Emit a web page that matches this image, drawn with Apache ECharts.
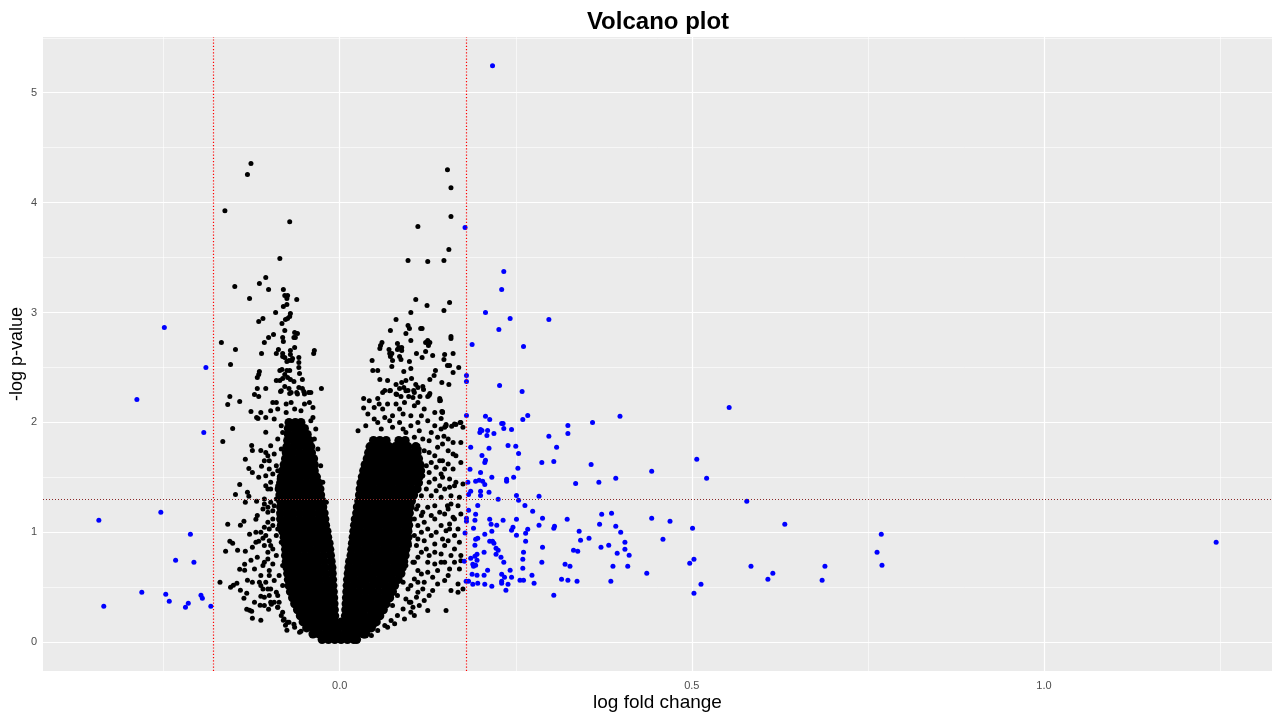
<!DOCTYPE html>
<html>
<head>
<meta charset="utf-8">
<title>Volcano plot</title>
<script src="https://cdn.jsdelivr.net/npm/echarts@6/dist/echarts.min.js"></script>
<style>
  html, body { margin: 0; padding: 0; background: #fff; }
  #chart { width: 1280px; height: 720px; }
</style>
</head>
<body>
<div id="chart"></div>
<script>
// axis breaks
const xTicks = [0, 0.5, 1.0];
const xMinor = [-0.25, 0.25, 0.75, 1.25];
const yTicks = [0, 1, 2, 3, 4, 5];
const yMinor = [0.5, 1.5, 2.5, 3.5, 4.5, 5.5];
// cut-offs: log10(1.5) and -log10(0.05)
const fcCut = [-0.1761, 0.1761];
const pCut = 1.30103;

// blue points, log fold change below -cut
const downPoints = [
  [-0.249,2.864],[-0.190,2.5],[-0.288,2.209],[-0.193,1.909],[-0.254,1.182],[-0.342,1.109],
  [-0.212,0.982],[-0.233,0.745],[-0.207,0.727],[-0.281,0.455],[-0.247,0.436],[-0.242,0.373],
  [-0.197,0.427],[-0.195,0.4],[-0.219,0.318],[-0.215,0.355],[-0.183,0.327],[-0.335,0.327]
];

// blue points, log fold change above +cut
const upPoints = [
  [0.217,5.245],[0.178,3.773],
  [0.233,3.373],[0.230,3.209],[0.207,3.0],[0.242,2.945],[0.297,2.936],[0.226,2.845],
  [0.188,2.709],[0.261,2.691],[0.180,2.427],[0.180,2.373],[0.227,2.336],[0.259,2.282],
  [0.180,2.064],[0.207,2.055],[0.213,2.027],[0.267,2.064],[0.260,2.027],[0.398,2.055],
  [0.230,1.991],[0.232,1.991],[0.324,1.973],[0.359,2.0],[0.233,1.945],[0.244,1.936],
  [0.200,1.936],[0.202,1.927],[0.199,1.909],[0.210,1.927],[0.209,1.882],[0.219,1.9],
  [0.324,1.9],[0.297,1.873],
  [0.186,1.773],[0.212,1.764],[0.239,1.791],[0.250,1.782],[0.308,1.773],[0.254,1.718],
  [0.202,1.7],[0.207,1.655],[0.206,1.636],[0.287,1.636],[0.304,1.645],[0.357,1.618],
  [0.253,1.582],[0.185,1.573],[0.200,1.545],[0.216,1.5],[0.247,1.5],[0.237,1.482],
  [0.237,1.464],[0.182,1.455],[0.193,1.464],[0.198,1.473],[0.203,1.464],[0.206,1.436],
  [0.335,1.445],[0.368,1.455],[0.392,1.491],[0.186,1.373],[0.183,1.345],[0.200,1.373],
  [0.200,1.336],[0.212,1.364],[0.251,1.336],[0.225,1.3],[0.283,1.327],[0.254,1.291],
  [0.196,1.245],[0.263,1.245],[0.183,1.2],[0.274,1.191],[0.193,1.164],[0.372,1.164],
  [0.386,1.173],[0.180,1.127],[0.180,1.1],[0.192,1.109],[0.213,1.118],[0.232,1.109],
  [0.251,1.118],[0.288,1.127],[0.323,1.118],[0.215,1.073],[0.223,1.064],[0.283,1.064],
  [0.305,1.055],[0.304,1.036],[0.369,1.073],[0.392,1.055],[0.190,1.036],[0.246,1.045],
  [0.244,1.018],[0.267,1.027],[0.264,0.991],[0.216,1.009],[0.251,0.973],[0.206,0.982],
  [0.399,1.0],[0.340,1.009],[0.196,0.945],[0.193,0.936],[0.354,0.945],[0.342,0.927],
  [0.213,0.918],[0.217,0.918],[0.219,0.9],[0.264,0.918],[0.405,0.909],[0.192,0.882],
  [0.371,0.864],[0.382,0.882],[0.288,0.864],[0.222,0.855],[0.225,0.836],[0.405,0.845],
  [0.332,0.836],[0.338,0.827],[0.205,0.818],[0.261,0.818],[0.195,0.8],[0.192,0.782],
  [0.394,0.809],[0.411,0.791],[0.222,0.8],[0.229,0.773],[0.186,0.764],[0.195,0.745],
  [0.189,0.709],[0.193,0.7],[0.190,0.691],[0.260,0.755],[0.233,0.727],[0.287,0.727],
  [0.320,0.709],[0.327,0.691],[0.260,0.673],[0.388,0.691],[0.409,0.691],[0.210,0.655],
  [0.242,0.655],[0.188,0.618],[0.195,0.609],[0.205,0.609],[0.230,0.618],[0.234,0.591],
  [0.244,0.591],[0.273,0.609],[0.315,0.573],[0.324,0.564],[0.337,0.555],[0.385,0.555],
  [0.256,0.564],[0.261,0.564],[0.230,0.555],[0.230,0.536],[0.183,0.555],[0.189,0.527],
  [0.196,0.536],[0.206,0.527],[0.216,0.509],[0.239,0.527],[0.276,0.536],[0.236,0.473],
  [0.304,0.427],[0.178,0.994],[0.177,0.736],[0.1795,0.555],
  [0.553,2.136],[0.507,1.664],[0.443,1.555],[0.521,1.491],[0.578,1.282],[0.443,1.127],
  [0.469,1.1],[0.501,1.036],[0.632,1.073],[0.769,0.982],[0.459,0.936],[0.763,0.818],
  [0.770,0.7],[0.497,0.718],[0.503,0.755],[0.436,0.627],[0.584,0.691],[0.615,0.627],
  [0.608,0.573],[0.689,0.691],[0.685,0.564],[0.513,0.527],[0.503,0.445],[1.2445,0.909]
];

// black points: scattered, non-significant fold change
const nsPoints = [
  [-0.126,4.355],[-0.131,4.255],[-0.163,3.927],[-0.071,3.827],[-0.085,3.491],[-0.105,3.318],
  [-0.114,3.264],[-0.149,3.236],[-0.101,3.209],[-0.080,3.209],[-0.128,3.127],[-0.078,3.155],
  [-0.074,3.155],[-0.075,3.127],[-0.061,3.118],[-0.075,3.073],[-0.080,3.055],[-0.091,3.0],
  [-0.070,2.991],[-0.071,2.964],[-0.074,2.945],[-0.109,2.945],[-0.115,2.918],[-0.077,2.936],
  [-0.082,2.9],[-0.078,2.836],[-0.094,2.8],[-0.101,2.773],[-0.064,2.818],[-0.060,2.809],
  [-0.065,2.773],[-0.063,2.773],[-0.081,2.773],[-0.080,2.736],[-0.168,2.727],[-0.107,2.727],
  [-0.148,2.664],[-0.064,2.682],[-0.036,2.655],[-0.037,2.627],[-0.087,2.664],[-0.090,2.627],
  [-0.111,2.627],[-0.081,2.627],[-0.078,2.591],[-0.075,2.555],[-0.081,2.6],[-0.070,2.655],
  [-0.070,2.618],[-0.067,2.582],[-0.072,2.564],[-0.068,2.564],[-0.058,2.591],[-0.058,2.545],
  [-0.058,2.5],[-0.155,2.527],[-0.114,2.464],[-0.117,2.409],[-0.115,2.436],[-0.085,2.473],
  [-0.082,2.482],[-0.075,2.473],[-0.071,2.473],[-0.078,2.436],[-0.081,2.4],[-0.085,2.382],
  [-0.090,2.382],[-0.074,2.409],[-0.070,2.391],[-0.065,2.373],[-0.057,2.445],[-0.053,2.391],
  [-0.105,2.309],[-0.084,2.282],[-0.078,2.327],[-0.072,2.309],[-0.071,2.264],[-0.061,2.273],
  [-0.058,2.318],[-0.053,2.309],[-0.051,2.282],[-0.044,2.273],[-0.026,2.309],[-0.117,2.309],
  [-0.115,2.236],[-0.121,2.255],[-0.156,2.236],
  [-0.159,2.164],[-0.142,2.19],[-0.126,2.10],[-0.112,2.09],[-0.116,2.036],[-0.118,2.045],
  [-0.105,2.045],[-0.152,1.945],[-0.166,1.827],[-0.105,1.91],[-0.125,1.79],[-0.124,1.745],
  [-0.112,1.745],[-0.105,1.727],[-0.134,1.664],[-0.129,1.58],[-0.124,1.545],[-0.111,1.6],
  [-0.115,1.5],[-0.142,1.436],[-0.148,1.345],[-0.131,1.364],[-0.134,1.273],[-0.129,1.327],
  [-0.118,1.282],[-0.159,1.073],[-0.141,1.064],[-0.136,1.1],[-0.119,1.118],[-0.128,0.982],
  [-0.119,1.0],[-0.156,0.918],[-0.152,0.9],[-0.162,0.827],[-0.145,0.836],[-0.134,0.827],
  [-0.124,0.864],[-0.115,0.918],[-0.109,0.945],[-0.126,0.745],[-0.135,0.709],[-0.142,0.664],
  [-0.135,0.655],[-0.170,0.545],[-0.155,0.5],[-0.151,0.518],[-0.146,0.536],[-0.141,0.473],
  [-0.131,0.564],[-0.124,0.545],[-0.132,0.445],[-0.136,0.4],[-0.112,0.418],[-0.132,0.3],
  [-0.125,0.282],[-0.128,0.29],[-0.124,0.218],[-0.112,0.2],[-0.113,0.336],[-0.097,0.345],
  [-0.101,0.3],[-0.088,0.318],[-0.080,0.2],[-0.077,0.155],[-0.075,0.109],[-0.065,0.164],
  [-0.055,0.1],
  [-0.102,1.697],[-0.107,1.652],[-0.100,1.576],[-0.105,1.515],[-0.098,1.455],[-0.102,1.394],
  [-0.090,1.303],[-0.107,1.258],[-0.102,1.182],[-0.095,1.121],[-0.100,1.03],[-0.105,0.97],
  [-0.098,0.879],[-0.102,0.818],[-0.107,0.727],[-0.100,0.652],[-0.112,0.606],[-0.105,0.545],
  [-0.098,0.485],[-0.109,0.485],[-0.100,0.424],[-0.093,0.364],[-0.107,0.333],[-0.088,1.848],
  [-0.083,1.758],[-0.090,1.606],[-0.086,1.485],[-0.093,1.242],[-0.088,1.03],[-0.090,0.788],
  [-0.086,0.606],[-0.088,0.424],[-0.083,0.242],[-0.074,0.182],
  [-0.083,2.288],[-0.069,2.273],[-0.060,2.258],[-0.050,2.258],[-0.041,2.273],[-0.095,2.182],
  [-0.090,2.182],[-0.076,2.167],[-0.069,2.182],[-0.050,2.167],[-0.043,2.182],[-0.098,2.106],
  [-0.088,2.121],[-0.076,2.09],[-0.064,2.121],[-0.055,2.106],[-0.038,2.136],[-0.093,2.03],
  [-0.038,2.045],
  [-0.098,1.788],[-0.093,1.712],[-0.100,1.652],[-0.088,1.561],[-0.095,1.53],[-0.105,1.424],
  [-0.098,1.394],[-0.088,1.424],[-0.107,1.303],[-0.098,1.273],[-0.102,1.227],[-0.095,1.197],
  [-0.102,1.091],[-0.107,1.045],[-0.095,1.061],[-0.090,0.97],[-0.100,0.924],[-0.107,0.879],
  [-0.095,0.848],[-0.102,0.758],[-0.095,0.712],[-0.109,0.697],[-0.100,0.606],[-0.093,0.561],
  [-0.112,0.515],[-0.102,0.485],[-0.090,0.455],[-0.107,0.409],[-0.098,0.364],[-0.088,0.318],
  [-0.081,0.273],[-0.079,0.212],[-0.072,0.182],[-0.064,0.136],[-0.057,0.091],[-0.117,0.773],
  [-0.119,0.909],[-0.112,1.0],[-0.117,1.152],[-0.109,1.212],[-0.121,0.667],[-0.114,0.545],
  [-0.121,0.364],[-0.083,1.333],[-0.086,1.152],[-0.083,0.909],[-0.081,0.697],[-0.081,0.515],
  [-0.086,0.364],[-0.083,1.97],[-0.081,1.909],[-0.036,1.848],[-0.031,1.758],[-0.034,1.939],
  [-0.041,2.015],[-0.027,1.606],[-0.024,1.455],[-0.019,1.273],
  [0.153,4.3],[0.158,4.136],[0.158,3.873],[0.111,3.782],[0.155,3.573],[0.097,3.473],
  [0.125,3.464],[0.148,3.473],[0.108,3.118],[0.124,3.064],[0.156,3.091],[0.148,3.018],
  [0.101,3.0],[0.080,2.936],[0.097,2.882],[0.099,2.855],[0.072,2.836],[0.115,2.855],
  [0.117,2.855],[0.094,2.809],[0.158,2.782],[0.158,2.764],[0.060,2.727],[0.058,2.7],
  [0.057,2.673],[0.082,2.718],[0.084,2.682],[0.088,2.682],[0.088,2.655],[0.082,2.664],
  [0.101,2.745],[0.125,2.745],[0.128,2.727],[0.122,2.727],[0.126,2.7],[0.070,2.664],
  [0.071,2.627],[0.074,2.627],[0.072,2.6],[0.075,2.564],[0.109,2.627],[0.117,2.591],
  [0.122,2.645],[0.132,2.609],[0.161,2.627],[0.149,2.618],[0.148,2.573],[0.153,2.518],
  [0.156,2.518],[0.046,2.564],[0.085,2.6],[0.087,2.573],[0.099,2.555],[0.074,2.509],
  [0.091,2.464],[0.101,2.491],[0.047,2.473],[0.054,2.473],[0.169,2.5],[0.161,2.455],
  [0.136,2.473],[0.134,2.427],[0.128,2.391],[0.145,2.364],[0.155,2.345],[0.057,2.391],
  [0.068,2.382],[0.080,2.345],[0.088,2.364],[0.094,2.382],[0.102,2.4],[0.108,2.345],
  [0.111,2.318],[0.118,2.327],[0.119,2.3],[0.091,2.318],[0.085,2.309],[0.097,2.291],
  [0.105,2.291],[0.072,2.291],[0.064,2.291],[0.061,2.273],[0.054,2.218],[0.034,2.218],
  [0.081,2.255],[0.087,2.236],[0.098,2.236],[0.104,2.227],[0.114,2.236],[0.125,2.236],
  [0.128,2.264],[0.142,2.218],
  [0.143,2.2],[0.145,2.1],[0.146,2.09],[0.144,2.036],[0.151,1.982],[0.149,1.955],
  [0.159,1.964],[0.165,1.982],[0.171,2.0],[0.175,1.955],[0.148,1.873],
  [0.034,2.13],[0.071,2.288],[0.080,2.258],[0.094,2.288],[0.106,2.273],[0.127,2.248],
  [0.142,2.197],[0.049,2.136],[0.056,2.167],[0.068,2.167],[0.080,2.167],[0.092,2.182],
  [0.106,2.152],[0.135,2.091],[0.146,2.097],[0.116,2.061],[0.125,2.015],[0.101,2.061],
  [0.090,2.076],[0.075,2.061],[0.064,2.045],[0.049,2.03],[0.040,2.076],[0.026,1.924],
  [0.037,1.97],[0.059,1.939],[0.075,1.955],[0.090,1.939],[0.101,1.97],[0.113,1.924],
  [0.130,1.909],[0.144,1.939],[0.151,1.97],[0.163,1.985],[0.172,2.0],
  [0.146,1.803],[0.161,1.818],[0.172,1.818],[0.161,1.712],[0.172,1.636],[0.146,1.652],
  [0.135,1.697],[0.120,1.742],[0.111,1.788],[0.127,1.833],[0.109,1.667],[0.123,1.606],
  [0.137,1.591],[0.149,1.576],[0.161,1.576],[0.118,1.515],[0.135,1.485],[0.146,1.5],
  [0.156,1.485],[0.165,1.455],[0.175,1.439],[0.156,1.409],[0.163,1.424],[0.109,1.47],
  [0.123,1.394],[0.137,1.379],[0.149,1.394],
  [0.111,1.242],[0.125,1.227],[0.135,1.242],[0.158,1.258],[0.168,1.242],[0.149,1.167],
  [0.161,1.136],[0.172,1.167],[0.106,1.121],[0.120,1.091],[0.135,1.121],[0.144,1.061],
  [0.156,1.076],[0.116,1.0],[0.130,0.97],[0.146,0.939],[0.163,0.97],[0.170,0.909],
  [0.109,0.879],[0.123,0.848],[0.135,0.818],[0.149,0.879],[0.158,0.788],[0.172,0.788],
  [0.111,0.773],[0.125,0.727],[0.144,0.727],[0.156,0.667],[0.170,0.667],[0.116,0.621],
  [0.132,0.591],[0.149,0.561],[0.101,0.515],[0.118,0.485],[0.132,0.47],[0.158,0.47],
  [0.168,0.455],[0.175,0.485],[0.094,0.394],[0.109,0.409],[0.120,0.379],[0.104,0.318],
  [0.125,0.288],[0.151,0.288],[0.092,0.212],[0.106,0.242],[0.049,0.152],[0.068,0.136],
  [0.078,0.167],[0.040,0.076],[0.026,0.061],[0.104,1.303],[0.116,1.152],[0.111,0.939],
  [0.104,0.727],[0.111,0.545],[0.101,0.364],[0.168,0.53],[0.172,0.742],[0.156,1.03],
  [0.163,1.12],[0.153,1.242],
  [0.042,2.197],[0.061,2.121],[0.085,2.121],[0.111,2.182],[0.120,2.121],[0.054,2.0],
  [0.071,2.015],[0.085,2.0],[0.111,2.0],[0.094,1.909],[0.118,1.848],[0.106,1.864],
  [0.135,1.97],[0.139,1.864],[0.154,1.848],[0.113,1.758],[0.127,1.727],[0.139,1.773],
  [0.154,1.742],[0.165,1.697],[0.130,1.636],[0.142,1.652],[0.154,1.621],[0.116,1.576],
  [0.127,1.545],[0.144,1.53],[0.111,1.424],[0.127,1.455],[0.142,1.424],[0.116,1.333],
  [0.130,1.333],[0.144,1.318],[0.158,1.333],[0.170,1.318],[0.109,1.212],[0.118,1.182],
  [0.130,1.152],[0.142,1.182],[0.154,1.212],[0.111,1.061],[0.125,1.03],[0.137,1.0],
  [0.151,1.015],[0.168,1.03],[0.106,0.97],[0.120,0.924],[0.135,0.894],[0.154,0.924],
  [0.163,0.848],[0.116,0.818],[0.127,0.788],[0.144,0.803],[0.106,0.727],[0.135,0.712],
  [0.149,0.727],[0.163,0.727],[0.111,0.652],[0.125,0.636],[0.139,0.652],[0.154,0.606],
  [0.106,0.576],[0.120,0.545],[0.139,0.53],[0.097,0.485],[0.111,0.455],[0.127,0.424],
  [0.099,0.364],[0.113,0.333],[0.090,0.303],[0.101,0.273],[0.082,0.242],[0.073,0.197],
  [0.064,0.152],[0.054,0.106],[0.045,0.061],[0.101,1.697],[0.104,1.515],[0.101,1.394],
  [0.099,1.212],[0.099,1.03],[0.099,0.879],[0.094,0.697],[0.090,0.545],[0.082,0.424],
  [0.075,0.333]
];

// black points: the dense V, overlapping points read row by row, [y, x1, x2, ...]
const nsCoreRows = [
  [2.00,-.072,-.063,-.055],
  [1.945,-.073,-.064,-.055,-.050],
  [1.89,-.073,-.064,-.055,-.046],
  [1.835,-.074,-.065,-.056,-.047,-.043, .048,.057,.066,.084,.093],
  [1.78,-.075,-.066,-.057,-.048,-.041, .043,.052,.061,.070,.079,.088,.097,.108],
  [1.725,-.076,-.067,-.058,-.049,-.040, .041,.050,.059,.068,.077,.086,.095,.104,.110],
  [1.67,-.077,-.068,-.059,-.050,-.041,-.037, .039,.048,.057,.066,.075,.084,.093,.102,.112],
  [1.615,-.079,-.070,-.061,-.052,-.043,-.036, .036,.045,.054,.063,.072,.081,.090,.099,.108,.114],
  [1.56,-.081,-.072,-.063,-.054,-.045,-.036, .034,.043,.052,.061,.070,.079,.088,.097,.106,.115],
  [1.505,-.083,-.074,-.065,-.056,-.047,-.038,-.033, .032,.041,.050,.059,.068,.077,.086,.095,.104,.113],
  [1.45,-.084,-.075,-.066,-.057,-.048,-.039,-.030, .030,.039,.048,.057,.066,.075,.084,.093,.102,.112],
  [1.395,-.086,-.077,-.068,-.059,-.050,-.041,-.032,-.028, .029,.038,.047,.056,.065,.074,.083,.092,.101,.110],
  [1.34,-.085,-.076,-.067,-.058,-.049,-.040,-.031,-.027, .028,.037,.046,.055,.064,.073,.082,.091,.100,.105],
  [1.285,-.084,-.075,-.066,-.057,-.048,-.039,-.030,-.025, .027,.036,.045,.054,.063,.072,.081,.090,.099,.102],
  [1.23,-.084,-.075,-.066,-.057,-.048,-.039,-.030,-.024, .025,.034,.043,.052,.061,.070,.079,.088,.097,.100],
  [1.175,-.084,-.075,-.066,-.057,-.048,-.039,-.030,-.022, .024,.033,.042,.051,.060,.069,.078,.087,.096,.099],
  [1.12,-.084,-.075,-.066,-.057,-.048,-.039,-.030,-.021, .022,.031,.040,.049,.058,.067,.076,.085,.094,.098],
  [1.065,-.083,-.074,-.065,-.056,-.047,-.038,-.029,-.020, .021,.030,.039,.048,.057,.066,.075,.084,.093,.098],
  [1.01,-.081,-.072,-.063,-.054,-.045,-.036,-.027,-.018, .020,.029,.038,.047,.056,.065,.074,.083,.092,.097],
  [0.955,-.079,-.070,-.061,-.052,-.043,-.034,-.025,-.017, .019,.028,.037,.046,.055,.064,.073,.082,.091,.097],
  [0.90,-.078,-.069,-.060,-.051,-.042,-.033,-.024,-.015, .018,.027,.036,.045,.054,.063,.072,.081,.090,.096],
  [0.845,-.077,-.068,-.059,-.050,-.041,-.032,-.023,-.014, .017,.026,.035,.044,.053,.062,.071,.080,.089,.094],
  [0.79,-.077,-.068,-.059,-.050,-.041,-.032,-.023,-.013, .016,.025,.034,.043,.052,.061,.070,.079,.088,.093],
  [0.735,-.076,-.067,-.058,-.049,-.040,-.031,-.022,-.012, .014,.023,.032,.041,.050,.059,.068,.077,.086,.091],
  [0.68,-.075,-.066,-.057,-.048,-.039,-.030,-.021,-.011, .013,.022,.031,.040,.049,.058,.067,.076,.085,.089],
  [0.625,-.074,-.065,-.056,-.047,-.038,-.029,-.020,-.0105, .012,.021,.030,.039,.048,.057,.066,.075,.084,.087],
  [0.57,-.073,-.064,-.055,-.046,-.037,-.028,-.019,-.010, .011,.020,.029,.038,.047,.056,.065,.074,.083],
  [0.515,-.072,-.063,-.054,-.045,-.036,-.027,-.018,-.0095, .0105,.019,.028,.037,.046,.055,.064,.073,.078],
  [0.46,-.070,-.061,-.052,-.043,-.034,-.025,-.016,-.009, .010,.019,.028,.037,.046,.055,.064,.073,.075],
  [0.405,-.067,-.058,-.049,-.040,-.031,-.022,-.013,-.0085, .0095,.018,.027,.036,.045,.054,.063,.071],
  [0.35,-.064,-.055,-.046,-.037,-.028,-.019,-.008, .009,.018,.027,.036,.045,.054,.063,.066],
  [0.295,-.060,-.051,-.042,-.033,-.024,-.015,-.0075, .0085,.017,.026,.035,.044,.053,.062],
  [0.24,-.056,-.047,-.038,-.029,-.020,-.011,-.007, .008,.017,.026,.035,.044,.053,.057],
  [0.185,-.052,-.043,-.034,-.025,-.016,-.007,.002,.011,.020,.029,.038,.047,.052],
  [0.13,-.047,-.038,-.029,-.020,-.011,-.002,.007,.016,.025,.034,.043,.045],
  [0.075,-.038,-.029,-.020,-.011,-.002,.007,.016,.025,.034,.036],
  [0.025,-.025,-.016,-.007,.002,.011,.020,.024]
];

const coreData = [];
nsCoreRows.forEach(function (row) {
  for (let i = 1; i < row.length; i++) coreData.push([row[i], row[0]]);
});

const chart = echarts.init(document.getElementById('chart'), null, { renderer: 'canvas' });

const gridLines = []
  .concat(xMinor.map(v => ({ xAxis: v, lineStyle: { width: 0.6 } })))
  .concat(yMinor.map(v => ({ yAxis: v, lineStyle: { width: 0.6 } })))
  .concat(xTicks.map(v => ({ xAxis: v, lineStyle: { width: 1.2 } })))
  .concat(yTicks.map(v => ({ yAxis: v, lineStyle: { width: 1.2 } })));

const font = 'Liberation Sans, Arial, sans-serif';

const option = {
  animation: false,
  textStyle: { fontFamily: font },
  title: {
    text: 'Volcano plot',
    left: 653,
    top: 5,
    textAlign: 'center',
    textStyle: { fontSize: 24, fontWeight: 'bold', color: '#000', fontFamily: font }
  },
  grid: {
    left: 43, right: 8, top: 37, bottom: 49,
    outerBoundsMode: 'none', containLabel: false,
    show: true, backgroundColor: '#ebebeb', borderWidth: 0
  },
  xAxis: {
    type: 'value', min: -0.4213, max: 1.3238,
    name: 'log fold change', nameLocation: 'middle', nameGap: 22, nameMoveOverlap: false,
    nameTextStyle: { fontSize: 19, color: '#000' },
    axisLine: { show: false },
    splitLine: { show: false },
    axisTick: { show: true, customValues: xTicks, length: 4, lineStyle: { color: '#333333' } },
    axisLabel: { customValues: xTicks, formatter: v => v.toFixed(1), color: '#4d4d4d', fontSize: 11, margin: 9 }
  },
  yAxis: {
    type: 'value', min: -0.262, max: 5.507,
    name: '-log p-value', nameLocation: 'middle', nameGap: 17, nameRotate: 90, nameMoveOverlap: false,
    nameTextStyle: { fontSize: 18, color: '#000' },
    axisLine: { show: false },
    splitLine: { show: false },
    axisTick: { show: true, customValues: yTicks, length: 4, lineStyle: { color: '#333333' } },
    axisLabel: { customValues: yTicks, formatter: v => String(v), color: '#4d4d4d', fontSize: 11, margin: 6 }
  },
  series: [
    {
      type: 'scatter', data: [], z: 1, silent: true,
      markLine: {
        z: 1, silent: true, symbol: ['none', 'none'], label: { show: false },
        lineStyle: { color: '#ffffff', type: 'solid' },
        emphasis: { disabled: true },
        data: gridLines
      }
    },
    {
      name: 'core', type: 'scatter', data: coreData, z: 2, silent: true,
      symbolSize: 9, itemStyle: { color: '#000000', opacity: 1 }
    },
    {
      name: 'ns', type: 'scatter', data: nsPoints, z: 3, silent: true,
      symbolSize: 5, itemStyle: { color: '#000000', opacity: 1 }
    },
    {
      name: 'down', type: 'scatter', data: downPoints, z: 3, silent: true,
      symbolSize: 5, itemStyle: { color: '#0000ff', opacity: 1 },
      markLine: {
        z: 10, silent: true, symbol: ['none', 'none'], label: { show: false },
        lineStyle: { color: '#ff0000', width: 1.2, type: [1.2, 2] },
        emphasis: { disabled: true },
        data: fcCut.map(v => ({ xAxis: v }))
      }
    },
    {
      name: 'up', type: 'scatter', data: upPoints, z: 3, silent: true,
      symbolSize: 5, itemStyle: { color: '#0000ff', opacity: 1 },
      markLine: {
        z: 10, silent: true, symbol: ['none', 'none'], label: { show: false },
        lineStyle: { color: '#8b2a2a', width: 1, type: [1, 2] },
        emphasis: { disabled: true },
        data: [{ yAxis: pCut }]
      }
    }
  ]
};

chart.setOption(option);
</script>
</body>
</html>
